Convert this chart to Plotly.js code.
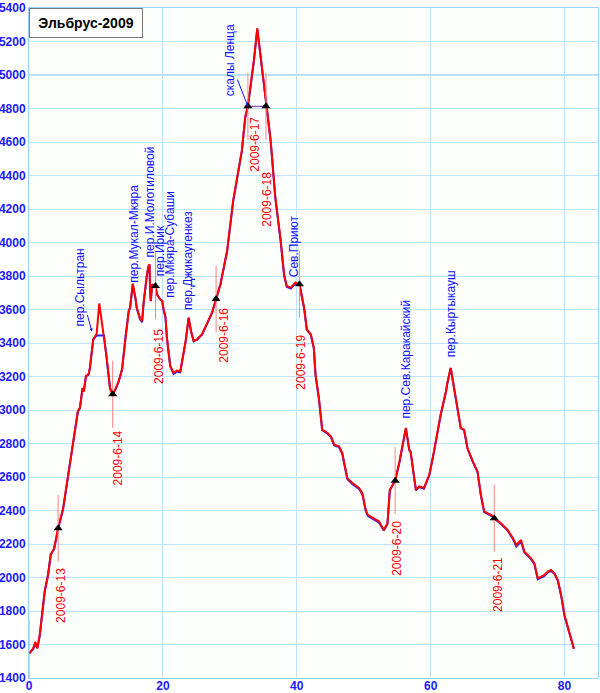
<!DOCTYPE html>
<html>
<head>
<meta charset="utf-8">
<script src="https://cdn.plot.ly/plotly-3.0.1.min.js"></script>
<style>html,body{margin:0;padding:0;background:#fff;}#chart{width:600px;height:693px;}</style>
</head>
<body>
<div id="chart"></div>
<script>
// Distance along route (km) and altitude (m), red profile
const distKm = [0, 0.6, 0.95, 1.25, 1.6, 2.1, 2.35, 2.85, 3.25, 3.75, 4.35, 5.1, 5.7, 6.3, 6.85, 7.3, 7.6, 8.0, 8.2, 8.5, 8.9, 9.1, 9.6, 10.1, 10.5, 10.9, 11.2, 11.6, 12.1, 12.5, 12.9, 13.4, 13.9, 14.4, 14.9, 15.1, 15.5, 15.9, 16.1, 16.6, 16.9, 17.1, 17.3, 17.6, 17.8, 18.0, 18.1, 18.2, 18.4, 18.6, 18.9, 19.1, 19.6, 19.9, 20.1, 20.4, 20.6, 20.9, 21.1, 21.6, 22.1, 22.6, 22.9, 23.4, 23.85, 24.2, 24.6, 25.1, 25.85, 26.6, 27.35, 27.95, 28.6, 29.6, 30.3, 30.5, 31.8, 32.3, 32.7, 33.6, 34.1, 34.6, 35.4, 36.1, 36.8, 37.6, 38.1, 38.5, 39.1, 39.8, 40.4, 41.1, 41.5, 42.1, 42.55, 42.8, 43.3, 43.8, 44.6, 45.1, 45.6, 46.3, 46.8, 47.3, 47.55, 48.3, 49.3, 49.8, 50.3, 50.6, 51.55, 52.3, 53.0, 53.55, 53.9, 54.3, 54.7, 55.3, 56.3, 56.8, 57.0, 57.8, 58.3, 59.0, 59.8, 60.5, 61.5, 62.3, 62.5, 63.0, 63.5, 64.0, 64.5, 65.0, 65.5, 66.3, 67.0, 67.5, 68.0, 68.5, 69.0, 69.5, 70.5, 71.5, 72.3, 72.8, 73.5, 74.0, 75.0, 75.5, 76.0, 77.0, 77.5, 78.0, 78.5, 79.0, 79.5, 80.0, 80.5, 81.0, 81.4];
const altRed = [1546, 1576, 1616, 1576, 1656, 1835, 1915, 2015, 2134, 2174, 2294, 2414, 2574, 2733, 2853, 2993, 3013, 3132, 3110, 3203, 3214, 3252, 3424, 3454, 3636, 3514, 3454, 3312, 3132, 3094, 3124, 3172, 3244, 3432, 3592, 3611, 3755, 3671, 3611, 3544, 3532, 3633, 3711, 3801, 3851, 3871, 3711, 3651, 3751, 3741, 3741, 3691, 3662, 3651, 3601, 3552, 3432, 3333, 3263, 3222, 3236, 3232, 3292, 3412, 3552, 3472, 3412, 3422, 3452, 3512, 3582, 3662, 3751, 3951, 4190, 4250, 4550, 4749, 4813, 5089, 5278, 5108, 4813, 4610, 4270, 4011, 3811, 3741, 3731, 3761, 3751, 3611, 3482, 3452, 3372, 3213, 3073, 2883, 2863, 2843, 2793, 2783, 2743, 2653, 2593, 2564, 2534, 2504, 2404, 2374, 2354, 2334, 2284, 2324, 2524, 2554, 2578, 2684, 2893, 2763, 2753, 2524, 2544, 2534, 2614, 2753, 2973, 3113, 3163, 3252, 3132, 3033, 2893, 2883, 2773, 2693, 2633, 2494, 2394, 2384, 2374, 2354, 2324, 2284, 2234, 2194, 2224, 2154, 2114, 2084, 1995, 2015, 2035, 2045, 2025, 1985, 1895, 1775, 1705, 1635, 1575];
// Blue (track) profile – same km positions
const altBlue = [1546, 1570, 1600, 1580, 1650, 1850, 1920, 2020, 2140, 2170, 2290, 2410, 2570, 2730, 2850, 2990, 3010, 3130, 3115, 3200, 3210, 3250, 3420, 3445, 3445, 3445, 3445, 3310, 3130, 3094, 3120, 3170, 3240, 3430, 3590, 3610, 3750, 3665, 3605, 3540, 3525, 3630, 3705, 3800, 3850, 3868, 3705, 3650, 3750, 3740, 3741, 3690, 3660, 3650, 3600, 3550, 3430, 3330, 3260, 3215, 3230, 3225, 3290, 3410, 3550, 3470, 3410, 3420, 3450, 3510, 3580, 3662, 3750, 3950, 4185, 4245, 4545, 4745, 4813, 5085, 5275, 5105, 4813, 4605, 4265, 4005, 3805, 3735, 3725, 3755, 3751, 3605, 3478, 3448, 3368, 3210, 3070, 2880, 2858, 2838, 2788, 2778, 2738, 2648, 2588, 2558, 2528, 2498, 2398, 2368, 2348, 2328, 2280, 2320, 2520, 2550, 2578, 2680, 2890, 2760, 2750, 2520, 2540, 2530, 2610, 2750, 2970, 3110, 3160, 3250, 3130, 3030, 2890, 2880, 2770, 2690, 2630, 2490, 2390, 2380, 2370, 2354, 2320, 2280, 2230, 2185, 2215, 2150, 2110, 2080, 1990, 2010, 2030, 2040, 2020, 1980, 1890, 1770, 1700, 1630, 1575];

// Day stops
const dayKm = [4.35, 12.5, 18.9, 27.95, 32.7, 35.4, 40.4, 54.7, 69.5];
const dayAlt = [2294, 3094, 3741, 3662, 4813, 4813, 3751, 2578, 2354];
const dayLabels = ['2009-6-13', '2009-6-14', '2009-6-15', '2009-6-16', '2009-6-17', '2009-6-18', '2009-6-19', '2009-6-20', '2009-6-21'];
const startKm = [0];
const startAlt = [1546];

// Place names
const placeNames = ['пер.Мукал-Мкяра', 'пер.И.Молотиловой', 'пер.Ирик', 'пер.Мкяра-Субаши', 'пер.Джикаугенкез', 'Сев.Приют', 'пер.Сев.Каракайский', 'пер.Кыртыкауш'];
const placeKm = [15.57, 18.1, 19.6, 21.1, 23.85, 39.5, 56.3, 63.0];
const placeAlt = [3755, 3903, 3791, 3663, 3592, 3789, 2945, 3310];
const arrowNames = ['пер.Сыльтран', 'скалы Ленца'];
const arrowKm = [9.4, 32.7];
const arrowAlt = [3468, 4813];

const chartTitle = 'Эльбрус-2009';
const highlightAlt = 5000;

// ---- styling / offsets (not data) ----
const dayLabelShift = [[3, 39], [5, 35], [4, 42], [8, 8], [7, 9], [1, 64], [1.5, 49], [2.5, 39], [3, 38]];
const arrowOffsets = [[-12, -44], [-18, -46]];
const FONT = 'Liberation Sans, Arial, sans-serif';

const traces = [
  {x: distKm, y: altBlue, mode: 'lines', line: {color: '#2020ff', width: 2}, hoverinfo: 'skip'},
  {x: distKm, y: altRed, mode: 'lines', line: {color: '#ff0000', width: 2}, hoverinfo: 'skip'},
  {x: dayKm.slice(4, 6), y: dayAlt.slice(4, 6), mode: 'lines', line: {color: '#8020a0', width: 1}, hoverinfo: 'skip'},
  {x: startKm.concat(dayKm), y: startAlt.concat(dayAlt), mode: 'markers',
   marker: {color: 'rgba(0,0,0,0)', size: 1},
   error_y: {type: 'constant', value: 200, color: '#ff8080', thickness: 1, width: 0}, hoverinfo: 'skip'},
  {x: dayKm, y: dayAlt, mode: 'markers', marker: {symbol: 'triangle-up', color: '#000', size: 8}, hoverinfo: 'skip'}
];

const annotations = [];
dayLabels.forEach((t, i) => {
  annotations.push({x: dayKm[i], y: dayAlt[i], xref: 'x', yref: 'y', text: t, showarrow: false,
    textangle: -90, xanchor: 'center', yanchor: 'top', xshift: dayLabelShift[i][0], yshift: -dayLabelShift[i][1],
    font: {family: FONT, size: 12, color: '#ff0000'}, borderpad: 0});
});
placeNames.forEach((t, i) => {
  annotations.push({x: placeKm[i], y: placeAlt[i], xref: 'x', yref: 'y', text: t, showarrow: false,
    textangle: -90, xanchor: 'center', yanchor: 'bottom',
    font: {family: FONT, size: 12, color: '#1010ff'}, borderpad: 0});
});
arrowNames.forEach((t, i) => {
  annotations.push({x: arrowKm[i], y: arrowAlt[i], xref: 'x', yref: 'y', text: t, showarrow: true,
    ax: arrowOffsets[i][0], ay: arrowOffsets[i][1], arrowhead: 2, arrowsize: 0.6, arrowwidth: 1, arrowcolor: '#1010ff',
    textangle: -90, font: {family: FONT, size: 12, color: '#1010ff'}, borderpad: 0, standoff: 0});
});
annotations.push({xref: 'paper', yref: 'paper', x: 0, y: 1, xanchor: 'left', yanchor: 'top', text: '<b>' + chartTitle + '</b>',
  showarrow: false, bgcolor: '#ffffff', bordercolor: '#7a7a7a', borderwidth: 1, borderpad: 1, width: 110, height: 26,
  font: {family: FONT, size: 14, color: '#000'}});

const layout = {
  width: 600, height: 693,
  margin: {l: 29, r: 2, t: 8, b: 15, pad: 0},
  paper_bgcolor: '#ffffff', plot_bgcolor: '#fcfffc',
  showlegend: false,
  xaxis: {range: [0, 85], dtick: 20, tick0: 0, showgrid: true, gridcolor: '#bfe2fb', gridwidth: 1,
    zeroline: false, showline: true, mirror: true, linecolor: '#9ccff5', linewidth: 1, ticks: '',
    ticklabelstandoff: -3,
    tickfont: {family: FONT, size: 12, color: '#1a1aff', weight: 'bold'}, automargin: false},
  yaxis: {range: [1400, 5400], dtick: 200, tick0: 1400, showgrid: true, gridcolor: '#bfe2fb', gridwidth: 1,
    zeroline: false, showline: true, mirror: true, linecolor: '#9ccff5', linewidth: 1, ticks: '',
    tickfont: {family: FONT, size: 12, color: '#1a1aff', weight: 'bold'}, automargin: false},
  shapes: [{type: 'line', xref: 'paper', x0: 0, x1: 1, yref: 'y', y0: highlightAlt, y1: highlightAlt,
    line: {color: '#b5dcf8', width: 2}, layer: 'below'}],
  annotations: annotations
};

Plotly.newPlot('chart', traces, layout, {staticPlot: true, displayModeBar: false});
</script>
</body>
</html>
